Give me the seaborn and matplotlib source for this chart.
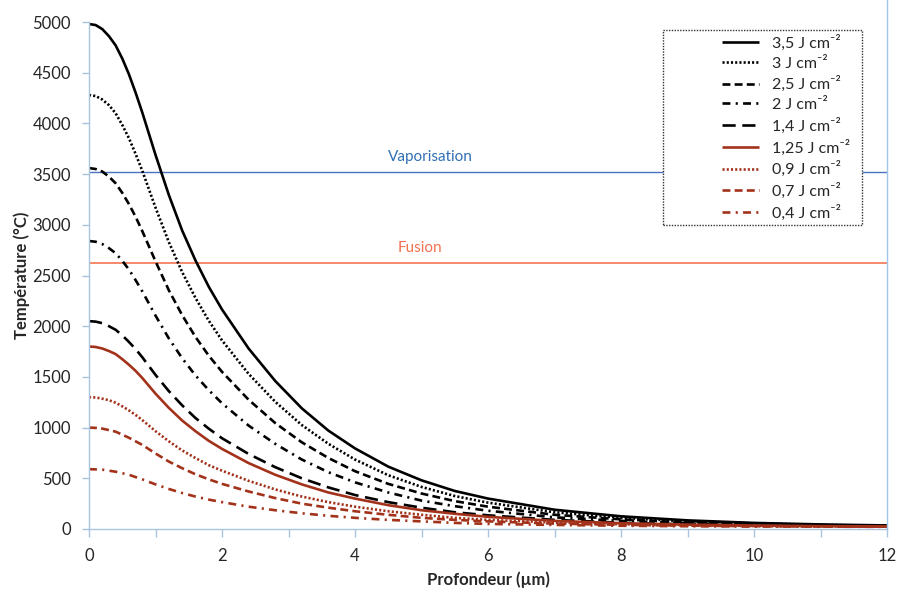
import matplotlib
matplotlib.use("Agg")
import matplotlib.pyplot as plt
from matplotlib.ticker import MultipleLocator
from matplotlib.patches import Rectangle
import seaborn as sns

sns.set_theme(style="white")
plt.rcParams["font.family"] = ["Lato", "DejaVu Sans"]

depth = [0, 0.1, 0.2, 0.3, 0.4, 0.5, 0.6, 0.7, 0.8, 1.0, 1.2, 1.4, 1.6, 1.8,
         2.0, 2.4, 2.8, 3.2, 3.6, 4.0, 4.5, 5.0, 5.5, 6, 7, 8, 9, 10, 11, 12]

t_3_5 = [4980, 4970, 4930, 4860, 4770, 4640, 4485, 4305, 4110, 3690, 3295, 2945,
         2650, 2390, 2165, 1780, 1460, 1190, 970, 795, 615, 480, 375, 300, 190,
         125, 85, 60, 45, 35]
t_3_0 = [4280, 4270, 4235, 4180, 4100, 3985, 3855, 3700, 3535, 3170, 2830, 2535,
         2280, 2055, 1860, 1530, 1255, 1025, 840, 685, 530, 415, 325, 260, 165,
         110, 75, 55, 40, 32]
t_2_5 = [3560, 3550, 3525, 3475, 3410, 3315, 3205, 3080, 2940, 2640, 2355, 2110,
         1895, 1710, 1550, 1275, 1045, 855, 700, 570, 445, 350, 275, 220, 140,
         95, 65, 50, 38, 30]
t_2_0 = [2840, 2833, 2810, 2770, 2720, 2645, 2560, 2455, 2345, 2105, 1880, 1685,
         1515, 1370, 1240, 1020, 840, 685, 560, 460, 360, 280, 225, 180, 115,
         80, 55, 42, 34, 28]
t_1_4 = [2050, 2045, 2030, 2000, 1965, 1910, 1845, 1775, 1695, 1520, 1360, 1220,
         1095, 990, 895, 740, 610, 500, 410, 335, 265, 210, 165, 135, 90,
         62, 46, 36, 30, 26]
t_1_25 = [1800, 1795, 1780, 1755, 1725, 1675, 1620, 1560, 1490, 1335, 1195, 1070,
          965, 870, 790, 650, 535, 440, 360, 300, 235, 185, 150, 120, 80,
          57, 43, 34, 28, 25]
t_0_9 = [1300, 1297, 1285, 1270, 1245, 1210, 1170, 1125, 1075, 965, 865, 775,
         700, 630, 575, 475, 390, 320, 265, 220, 175, 140, 110, 90, 63,
         47, 37, 30, 26, 24]
t_0_7 = [1000, 997, 990, 975, 960, 930, 900, 865, 830, 745, 665, 600,
         540, 490, 445, 370, 305, 250, 210, 175, 140, 110, 90, 75, 53,
         41, 33, 28, 25, 23]
t_0_4 = [590, 588, 585, 575, 565, 550, 535, 512, 490, 440, 395, 355,
         320, 290, 265, 220, 185, 155, 130, 110, 90, 75, 60, 50, 40,
         32, 27, 24, 23, 21]

labels = ["3,5", "3", "2,5", "2", "1,4", "1,25", "0,9", "0,7", "0,4"]
series = [t_3_5, t_3_0, t_2_5, t_2_0, t_1_4, t_1_25, t_0_9, t_0_7, t_0_4]

t_vaporisation = 3520
t_fusion = 2620

BLACK = "#000000"
RED = "#a3321b"
DOT = (0, (0.8, 0.8))
DASH = (0, (3, 1.6))
DASHDOT = (0, (3, 2, 0.8, 2))
LONGDASH = (0, (5, 2.5))
styles = [
    (BLACK, "-"), (BLACK, DOT), (BLACK, DASH), (BLACK, DASHDOT), (BLACK, LONGDASH),
    (RED, "-"), (RED, DOT), (RED, DASH), (RED, DASHDOT),
]

fig = plt.figure(figsize=(8.99, 5.90), dpi=100)
ax = fig.add_axes([0.099, 0.1034, 0.8877, 0.8593])

for lab, vals, (col, ls) in zip(labels, series, styles):
    sns.lineplot(x=depth, y=vals, ax=ax, color=col, linestyle=ls, lw=1.9,
                 label=f"{lab} J cm⁻²", dash_capstyle="butt",
                 solid_capstyle="butt")

ax.axhline(t_vaporisation, color="#4a72c0", lw=1.0, zorder=1)
ax.axhline(t_fusion, color="#f4805f", lw=1.3, zorder=1)
ax.text(5.13, t_vaporisation + 80, "Vaporisation", color="#2f6fb5",
        fontsize=11, ha="center", va="bottom")
ax.text(4.97, t_fusion + 80, "Fusion", color="#f2714f",
        fontsize=11, ha="center", va="bottom")

ax.set_xlim(0, 12)
ax.set_ylim(0, 5000)
ax.xaxis.set_major_locator(MultipleLocator(2))
ax.xaxis.set_minor_locator(MultipleLocator(1))
ax.yaxis.set_major_locator(MultipleLocator(500))

axis_col = "#a9c4e0"
for side in ["left", "bottom"]:
    ax.spines[side].set_color(axis_col)
    ax.spines[side].set_linewidth(1.0)
ax.spines["top"].set_visible(False)
ax.spines["right"].set_color("#9fc5e8")
ax.spines["right"].set_linewidth(1.0)
ax.spines["right"].set_bounds(0, 5220)

ax.tick_params(axis="both", which="both", direction="out", color=axis_col,
               labelsize=12, labelcolor="#262626", width=1.0)
ax.tick_params(axis="y", which="major", length=5, pad=8, left=True)
ax.tick_params(axis="x", which="both", length=6, pad=8, bottom=True)

ax.set_xlabel("Profondeur (µm)", fontsize=12, fontweight="bold", labelpad=5)
ax.set_ylabel("Température (°C)", fontsize=12, fontweight="bold", labelpad=2)

# legend box with dotted border, entries pushed to the right like the original
ax.add_patch(Rectangle((0.7193, 0.5996), 0.2494, 0.3846, transform=ax.transAxes,
                       fill=True, facecolor="white", edgecolor="#333333",
                       linestyle=(0, (1, 1)), lw=1.0, zorder=4))
leg = ax.legend(loc="upper left", bbox_to_anchor=(0.793, 0.975), frameon=False,
                fontsize=11.5, handlelength=2.3, handletextpad=0.85,
                labelspacing=0.35, borderaxespad=0.0, borderpad=0.0)
leg.set_zorder(5)

fig.savefig("out.png", dpi=100)
plt.close(fig)
